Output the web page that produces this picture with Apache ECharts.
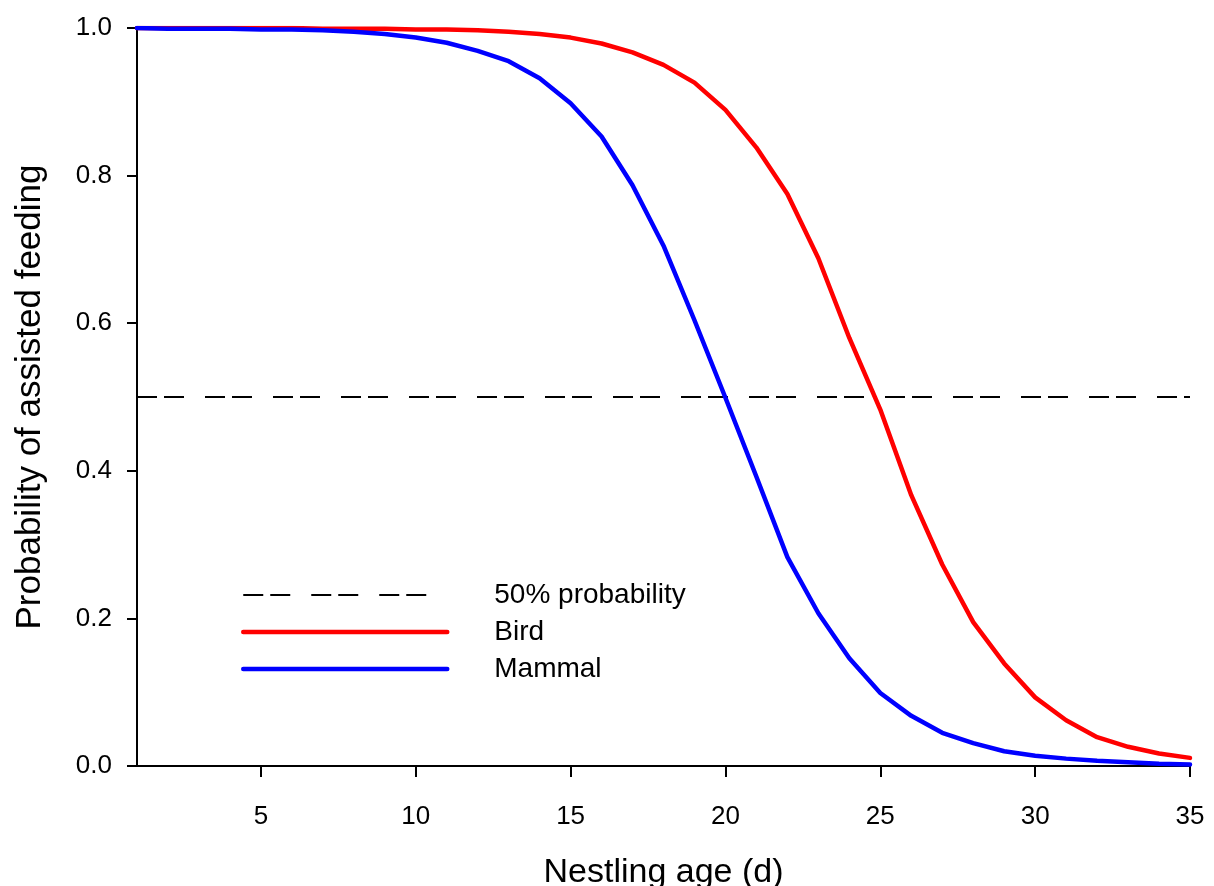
<!DOCTYPE html>
<html>
<head>
<meta charset="utf-8">
<title>Probability of assisted feeding</title>
<script src="https://cdn.jsdelivr.net/npm/echarts@6/dist/echarts.min.js"></script>
<style>
  html, body { margin: 0; padding: 0; background: #fff; }
  #chart { width: 1214px; height: 886px; }
</style>
</head>
<body>
<div id="chart"></div>
<script>
// nestling age in days
const ages = [1, 2, 3, 4, 5, 6, 7, 8, 9, 10, 11, 12, 13, 14, 15, 16, 17, 18,
  19, 20, 21, 22, 23, 24, 25, 26, 27, 28, 29, 30, 31, 32, 33, 34, 35];
// fitted probability curves
const birdProb = [1.000, 1.000, 1.000, 1.000, 1.000, 1.000, 0.999, 0.999, 0.999,
  0.998, 0.998, 0.997, 0.995, 0.992, 0.987, 0.979, 0.967, 0.950, 0.926, 0.889,
  0.838, 0.775, 0.688, 0.580, 0.483, 0.367, 0.273, 0.195, 0.139, 0.093, 0.062,
  0.039, 0.026, 0.017, 0.011];
const mammalProb = [1.000, 0.999, 0.999, 0.999, 0.998, 0.998, 0.997, 0.995, 0.992,
  0.987, 0.980, 0.969, 0.955, 0.932, 0.898, 0.853, 0.787, 0.705, 0.604, 0.499,
  0.392, 0.283, 0.207, 0.146, 0.099, 0.068, 0.045, 0.031, 0.020, 0.014, 0.010,
  0.007, 0.005, 0.003, 0.002];
// 50% reference line
const refAges = [1, 35];
const refProb = [0.5, 0.5];
// tick labels
const xTicks = [5, 10, 15, 20, 25, 30, 35];
const seriesNames = ['50% probability', 'Bird', 'Mammal'];

const pairs = (xs, ys) => xs.map((x, i) => [x, ys[i]]);

const chart = echarts.init(document.getElementById('chart'));
const font = '"Liberation Sans", Arial, sans-serif';

const option = {
  animation: false,
  textStyle: { fontFamily: font, color: '#000' },
  grid: { left: 137, right: 24, top: 28, bottom: 120, containLabel: false, outerBoundsMode: 'none' },
  legend: {
    orient: 'vertical',
    left: 241,
    top: 581,
    padding: 0,
    itemWidth: 204,
    itemHeight: 14,
    itemGap: 9,
    itemStyle: { opacity: 0 },
    data: [
      { name: seriesNames[0], lineStyle: { width: 2 } },
      { name: seriesNames[1], lineStyle: { width: 4.5 } },
      { name: seriesNames[2], lineStyle: { width: 4.5 } }
    ],
    textStyle: { fontSize: 28, color: '#000', padding: [0, 0, 0, 42] }
  },
  xAxis: {
    type: 'value',
    min: 1,
    max: 35,
    name: 'Nestling age (d)',
    nameLocation: 'middle',
    nameGap: 90,
    nameTextStyle: { fontSize: 34, color: '#000' },
    axisLine: { lineStyle: { color: '#000', width: 2 } },
    axisTick: { customValues: xTicks, length: 11, lineStyle: { color: '#000', width: 2 } },
    axisLabel: { customValues: xTicks, fontSize: 26, color: '#000', margin: 38 },
    splitLine: { show: false }
  },
  yAxis: {
    type: 'value',
    min: 0,
    max: 1,
    interval: 0.2,
    name: 'Probability of assisted feeding',
    nameLocation: 'middle',
    nameGap: 89,
    nameTextStyle: { fontSize: 35, color: '#000' },
    axisLine: { show: true, lineStyle: { color: '#000', width: 2 } },
    axisTick: { show: true, length: 10, lineStyle: { color: '#000', width: 2 } },
    axisLabel: {
      fontSize: 26,
      color: '#000',
      margin: 25,
      formatter: (v) => v.toFixed(1)
    },
    splitLine: { show: false }
  },
  series: [
    {
      name: seriesNames[0],
      type: 'line',
      data: pairs(refAges, refProb),
      symbol: 'none',
      lineStyle: { color: '#000', width: 2, type: [20, 7, 20, 21] },
      itemStyle: { color: '#000' },
      z: 1
    },
    {
      name: seriesNames[1],
      type: 'line',
      data: pairs(ages, birdProb),
      symbol: 'none',
      lineStyle: { color: '#ff0000', width: 4.5, cap: 'round' },
      itemStyle: { color: '#ff0000' },
      z: 2
    },
    {
      name: seriesNames[2],
      type: 'line',
      data: pairs(ages, mammalProb),
      symbol: 'none',
      lineStyle: { color: '#0000ff', width: 4.5, cap: 'round' },
      itemStyle: { color: '#0000ff' },
      z: 3
    }
  ]
};

chart.setOption(option);
</script>
</body>
</html>
